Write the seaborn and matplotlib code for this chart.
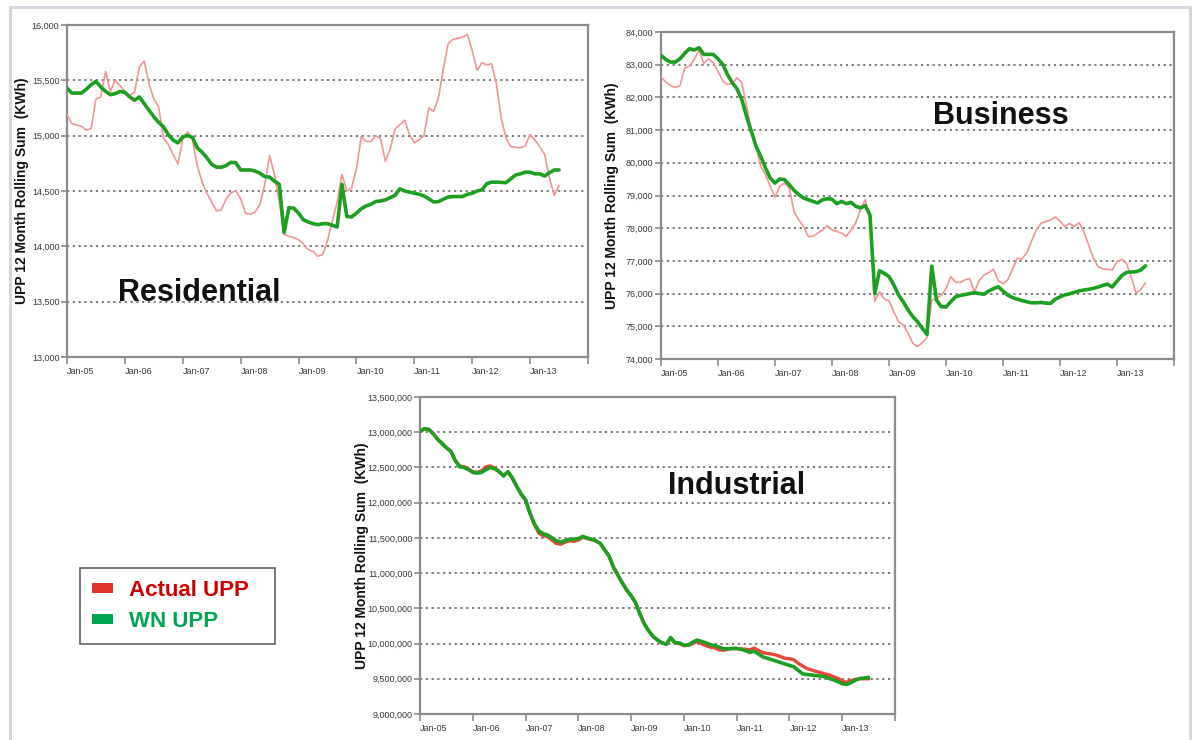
import numpy as np
import pandas as pd
import matplotlib
matplotlib.use("Agg")
import matplotlib.pyplot as plt
from matplotlib.ticker import FuncFormatter, MultipleLocator
from matplotlib.patches import Patch
from matplotlib.lines import Line2D
import seaborn as sns

# ---------------------------------------------------------------------------
# Monthly 12-month rolling sums of use per premise (UPP), Jan-2005 onward
# ---------------------------------------------------------------------------
tick_labels = ["Jan-05", "Jan-06", "Jan-07", "Jan-08", "Jan-09",
               "Jan-10", "Jan-11", "Jan-12", "Jan-13", ""]

series_names = ["Actual UPP", "WN UPP"]

residential_actual = [
    15190, 15110, 15095, 15085, 15050, 15065, 15330, 15350, 15580, 15400,
    15500, 15450, 15400, 15365, 15390, 15620, 15675, 15470, 15330, 15260,
    14980, 14920, 14830, 14745, 14970, 15035, 14970, 14730, 14580, 14480,
    14400, 14320, 14330, 14430, 14485, 14500, 14430, 14300, 14290, 14310,
    14380, 14560, 14820, 14650, 14400, 14110, 14090, 14080, 14060, 14020,
    13970, 13955, 13910, 13925, 14050, 14230, 14400, 14650, 14500, 14530,
    14700, 14990, 14950, 14945, 15000, 14970, 14770, 14880, 15060, 15100,
    15140, 15010, 14935, 14965, 15000, 15250, 15220, 15340, 15600, 15830,
    15870, 15880, 15890, 15915, 15770, 15590, 15660, 15640, 15650, 15470,
    15160, 14980, 14900, 14895, 14890, 14910, 15010, 14960, 14900, 14830,
    14620, 14460, 14550,
]
residential_wn = [
    15430, 15385, 15385, 15385, 15420, 15460, 15490, 15440, 15400, 15370,
    15380, 15400, 15390, 15350, 15320, 15350, 15290, 15230, 15170, 15120,
    15080, 15010, 14960, 14935, 14990, 15000, 14985, 14890, 14850, 14800,
    14740, 14715, 14715, 14730, 14760, 14755, 14690, 14690, 14690, 14680,
    14660, 14630, 14625, 14590, 14560, 14125, 14350, 14345, 14300, 14240,
    14220, 14205, 14195, 14205, 14205, 14190, 14175, 14560, 14270, 14265,
    14300, 14340, 14365, 14380, 14405, 14410, 14420, 14440, 14460, 14520,
    14500, 14490, 14480, 14470, 14455, 14430, 14400, 14405, 14425, 14445,
    14450, 14450, 14450, 14470, 14480, 14500, 14510, 14565, 14580, 14580,
    14578, 14575, 14610, 14645, 14655, 14670, 14670, 14655, 14655, 14635,
    14665, 14690, 14690,
]

business_actual = [
    82630, 82470, 82365, 82300, 82365, 82900, 82960, 83160, 83450, 83040,
    83180, 83060, 82800, 82500, 82400, 82420, 82600, 82450, 81730, 81020,
    80500, 79890, 79640, 79280, 78950, 79280, 79380, 79230, 78515, 78260,
    78055, 77750, 77750, 77850, 77950, 78075, 77950, 77900, 77850, 77750,
    77950, 78160, 78565, 78870, 78260, 75760, 76060, 75830, 75780, 75450,
    75140, 75040, 74790, 74480, 74380, 74500, 74660, 75800, 75850, 75950,
    76150, 76520, 76350, 76340, 76420, 76460, 76050, 76400, 76570, 76640,
    76740, 76400, 76300, 76420, 76750, 77080, 77060, 77250, 77600, 77950,
    78150, 78200, 78250, 78340, 78220, 78050, 78150, 78050, 78170, 77900,
    77500, 77100, 76820, 76760, 76740, 76720, 76980, 77050, 76920, 76500,
    76020, 76120, 76330,
]
business_wn = [
    83285, 83160, 83080, 83080, 83180, 83350, 83490, 83450, 83520, 83315,
    83315, 83315, 83180, 83010, 82700, 82450, 82260, 81940, 81425, 80970,
    80510, 80200, 79840, 79535, 79380, 79505, 79485, 79330, 79160, 79025,
    78925, 78870, 78820, 78770, 78870, 78900, 78890, 78750, 78820, 78750,
    78790, 78670, 78620, 78690, 78400, 76000, 76700, 76620, 76520, 76270,
    75960, 75750, 75500, 75300, 75140, 74940, 74750, 76840, 75800, 75600,
    75590, 75750, 75900, 75940, 75970, 76000, 76030, 76000, 75980, 76080,
    76150, 76210, 76080, 75950, 75880, 75830, 75790, 75750, 75720, 75720,
    75730, 75710, 75700, 75830, 75900, 75960, 75990, 76040, 76080, 76110,
    76130, 76160, 76200, 76250, 76290, 76200, 76380, 76550, 76650, 76660,
    76670, 76720, 76850,
]

industrial_actual = [
    13010000, 13050000, 13040000, 12980000, 12900000, 12840000, 12780000, 12730000, 12600000, 12520000,
    12510000, 12480000, 12440000, 12430000, 12450000, 12510000, 12520000, 12490000, 12440000, 12380000,
    12440000, 12350000, 12230000, 12120000, 12040000, 11850000, 11690000, 11570000, 11530000, 11520000,
    11470000, 11420000, 11410000, 11440000, 11460000, 11450000, 11470000, 11510000, 11490000, 11475000,
    11455000, 11420000, 11330000, 11240000, 11080000, 10970000, 10860000, 10760000, 10680000, 10580000,
    10420000, 10280000, 10180000, 10100000, 10050000, 10010000, 9990000, 10080000, 10005000, 10000000,
    9970000, 9975000, 10000000, 10030000, 10000000, 9970000, 9950000, 9940000, 9910000, 9905000,
    9920000, 9930000, 9930000, 9920000, 9920000, 9910000, 9935000, 9900000, 9870000, 9860000,
    9850000, 9835000, 9815000, 9790000, 9785000, 9770000, 9720000, 9680000, 9645000, 9625000,
    9605000, 9590000, 9570000, 9555000, 9530000, 9505000, 9470000, 9450000, 9475000, 9490000,
    9500000, 9500000, 9500000,
]
industrial_wn = [
    13010000, 13050000, 13040000, 12980000, 12900000, 12840000, 12780000, 12730000, 12600000, 12510000,
    12500000, 12470000, 12430000, 12420000, 12430000, 12470000, 12500000, 12480000, 12440000, 12380000,
    12440000, 12350000, 12230000, 12120000, 12040000, 11850000, 11700000, 11600000, 11560000, 11540000,
    11500000, 11460000, 11440000, 11460000, 11480000, 11480000, 11490000, 11520000, 11500000, 11480000,
    11460000, 11420000, 11330000, 11240000, 11080000, 10970000, 10860000, 10760000, 10680000, 10580000,
    10420000, 10280000, 10180000, 10100000, 10050000, 10010000, 9990000, 10085000, 10010000, 10010000,
    9975000, 9980000, 10020000, 10050000, 10030000, 10010000, 9985000, 9970000, 9950000, 9925000,
    9925000, 9930000, 9930000, 9920000, 9900000, 9875000, 9890000, 9850000, 9810000, 9790000,
    9770000, 9750000, 9730000, 9710000, 9690000, 9670000, 9620000, 9570000, 9560000, 9555000,
    9545000, 9540000, 9530000, 9505000, 9485000, 9460000, 9430000, 9420000, 9445000, 9480000,
    9505000, 9510000, 9520000,
]

# ---------------------------------------------------------------------------
sns.set_style("white")
plt.rcParams["font.family"] = ["Liberation Sans", "DejaVu Sans"]

W, H = 1193, 740
fig = plt.figure(figsize=(W / 100, H / 100), dpi=100)
fig.patch.set_facecolor("white")


def px_axes(left, top, right, bottom):
    return fig.add_axes([left / W, 1 - bottom / H, (right - left) / W, (bottom - top) / H])


ACTUAL_LIGHT = "#F29494"
ACTUAL_STRONG = "#E8453C"
WN_GREEN = "#1E9E22"
SPINE = "#8C8C8C"
TICKTXT = "#3A3A3A"
YLABEL = "UPP 12 Month Rolling Sum  (KWh)"


def panel(ax, actual, wn, ylo, yhi, ystep, title, title_xy, ylabel_x,
          actual_color, actual_lw, wn_lw):
    months = np.arange(len(actual))
    df = pd.DataFrame({"month": months, "Actual UPP": actual, "WN UPP": wn})
    sns.lineplot(data=df, x="month", y="Actual UPP", ax=ax, color=actual_color,
                 linewidth=actual_lw, legend=False, zorder=3)
    sns.lineplot(data=df, x="month", y="WN UPP", ax=ax, color=WN_GREEN,
                 linewidth=wn_lw, legend=False, zorder=4)

    ax.set_xlim(0, 108)
    ax.set_ylim(ylo, yhi)
    ax.set_xticks(np.arange(0, 109, 12))
    ax.set_xticklabels(tick_labels)
    for lab in ax.get_xticklabels():
        lab.set_ha("left")
    ax.yaxis.set_major_locator(MultipleLocator(ystep))
    ax.yaxis.set_major_formatter(FuncFormatter(lambda v, _: f"{v:,.0f}"))

    ax.tick_params(axis="both", which="major", labelsize=6.5, labelcolor=TICKTXT,
                   color=SPINE, direction="out", length=4, width=1.2, pad=1.5)
    ax.tick_params(axis="x", length=5, pad=2)
    ax.tick_params(left=True, bottom=True, right=False, top=False)

    ax.grid(axis="y", color="#6E6E6E", linestyle=(0, (1.2, 2.0)), linewidth=1.3)
    ax.grid(axis="x", visible=False)
    for s in ax.spines.values():
        s.set_visible(True)
        s.set_color(SPINE)
        s.set_linewidth(1.6)

    ax.set_xlabel("")
    ax.set_ylabel(YLABEL, fontsize=10, fontweight="bold", color="#111111", va="center")
    ax.yaxis.set_label_coords(ylabel_x, 0.5)

    ax.text(title_xy[0], title_xy[1], title, transform=ax.transAxes,
            fontsize=22, fontweight="bold", color="#111111", ha="left", va="center",
            zorder=6)


ax_res = px_axes(67, 25, 588, 357)
panel(ax_res, residential_actual, residential_wn, 13000, 16000, 500,
      "Residential", (0.098, 0.193), -0.0864, ACTUAL_LIGHT, 1.2, 2.6)

ax_bus = px_axes(661, 32, 1174, 359)
panel(ax_bus, business_actual, business_wn, 74000, 84000, 1000,
      "Business", (0.530, 0.743), -0.0955, ACTUAL_LIGHT, 1.2, 2.6)

ax_ind = px_axes(420, 397, 895, 714)
panel(ax_ind, industrial_actual, industrial_wn, 9000000, 13500000, 500000,
      "Industrial", (0.522, 0.719), -0.122, ACTUAL_STRONG, 2.4, 2.6)

# Shared legend for the three panels, in a fixed-width box
handles = [Patch(facecolor="#E0322A", edgecolor="none"),
           Patch(facecolor="#00A650", edgecolor="none")]
leg = fig.legend(handles, series_names, loc="upper left",
                 bbox_to_anchor=(80 / W, 1 - 643 / H, 195 / W, 75 / H),
                 bbox_transform=fig.transFigure, mode="expand",
                 frameon=True, fancybox=False, shadow=False, borderaxespad=0,
                 prop={"family": ["Liberation Sans"], "weight": "bold", "size": 16},
                 handlelength=0.95, handleheight=0.32, handletextpad=0.7,
                 borderpad=0.55, labelspacing=0.45)
leg.get_frame().set_edgecolor("#3A3A3A")
leg.get_frame().set_linewidth(1.2)
for txt, col in zip(leg.get_texts(), ["#CC0000", "#00A550"]):
    txt.set_color(col)

# Light page frame
frame_kw = dict(color="#D6D6DE", linewidth=2.2, transform=fig.transFigure)
fig.add_artist(Line2D([10 / W, 1190 / W], [1 - 7 / H, 1 - 7 / H], **frame_kw))
fig.add_artist(Line2D([10 / W, 10 / W], [1 - 7 / H, 0], **frame_kw))
fig.add_artist(Line2D([1190 / W, 1190 / W], [1 - 7 / H, 0], **frame_kw))

fig.savefig("out.png", dpi=100, facecolor="white")
